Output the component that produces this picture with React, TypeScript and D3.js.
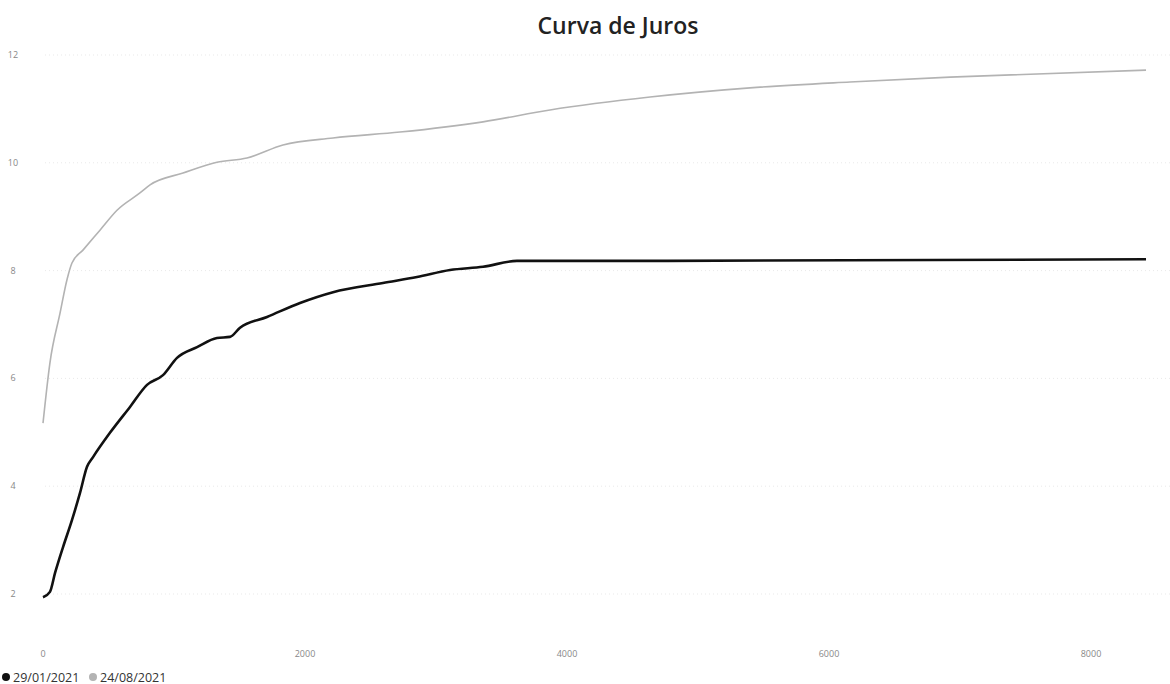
import React from "react";
import * as d3 from "d3";

const W = 1170;
const H = 684;

const seriesNames = ["29/01/2021", "24/08/2021"];
const seriesColors = ["#111111", "#b3b3b3"];

const jan2021Days = [0, 53, 92, 153, 221, 282, 336, 382, 511, 664, 794, 916, 1023, 1176, 1328, 1427, 1504, 1710, 1962, 2214, 2595, 2855, 3107, 3359, 3618, 4252, 8420];
const jan2021Rates = [1.94, 2.04, 2.39, 2.87, 3.37, 3.87, 4.36, 4.54, 4.99, 5.47, 5.88, 6.06, 6.38, 6.58, 6.75, 6.77, 6.94, 7.14, 7.40, 7.60, 7.77, 7.88, 8.01, 8.07, 8.18, 8.18, 8.21];

const aug2021Days = [0, 53, 130, 183, 221, 305, 435, 565, 740, 817, 1069, 1328, 1557, 1832, 2214, 2725, 3359, 3870, 4634, 5397, 6160, 6924, 8420];
const aug2021Rates = [5.17, 6.29, 7.21, 7.83, 8.14, 8.38, 8.75, 9.12, 9.44, 9.59, 9.81, 10.01, 10.09, 10.33, 10.46, 10.57, 10.76, 10.98, 11.22, 11.39, 11.50, 11.59, 11.72];

const yTicks = [2, 4, 6, 8, 10, 12];
const xTicks = [0, 2000, 4000, 6000, 8000];

export default function App() {
  const x = d3.scaleLinear().domain([0, 8000]).range([43, 1091]);
  const y = d3.scaleLinear().domain([2, 12]).range([594, 55]);

  const line = d3
    .line<[number, number]>()
    .x((d) => x(d[0]))
    .y((d) => y(d[1]))
    .curve(d3.curveMonotoneX);

  const s1 = jan2021Days.map((d, i) => [d, jan2021Rates[i]] as [number, number]);
  const s2 = aug2021Days.map((d, i) => [d, aug2021Rates[i]] as [number, number]);

  const font = "'Open Sans', 'DejaVu Sans', sans-serif";

  return (
    <svg
      width={W}
      height={H}
      style={{ position: "absolute", left: 0, top: 0, background: "#fff" }}
      fontFamily={font}
    >
      <rect x={0} y={0} width={W} height={H} fill="#fff" />
      <text
        x={618}
        y={34}
        textAnchor="middle"
        fontSize={23}
        fontWeight={600}
        fill="#222"
      >
        Curva de Juros
      </text>
      {yTicks.map((t) => (
        <g key={"y" + t}>
          <line
            x1={45}
            x2={1170}
            y1={y(t)}
            y2={y(t)}
            stroke="#e9e9e9"
            strokeWidth={1}
            strokeDasharray="1 3"
          />
          <text x={13} y={y(t) + 3} textAnchor="middle" fontSize={9} fill="#888">
            {t}
          </text>
        </g>
      ))}
      {xTicks.map((t) => (
        <text key={"x" + t} x={x(t)} y={657} textAnchor="middle" fontSize={9} fill="#888">
          {t}
        </text>
      ))}
      <path d={line(s2) || ""} fill="none" stroke={seriesColors[1]} strokeWidth={1.6} />
      <path d={line(s1) || ""} fill="none" stroke={seriesColors[0]} strokeWidth={2.6} />
      <g fontSize={12.5} fill="#333">
        <circle cx={6} cy={677} r={4} fill={seriesColors[0]} />
        <text x={13} y={681.5}>{seriesNames[0]}</text>
        <circle cx={93} cy={677} r={4} fill={seriesColors[1]} />
        <text x={100} y={681.5}>{seriesNames[1]}</text>
      </g>
    </svg>
  );
}
